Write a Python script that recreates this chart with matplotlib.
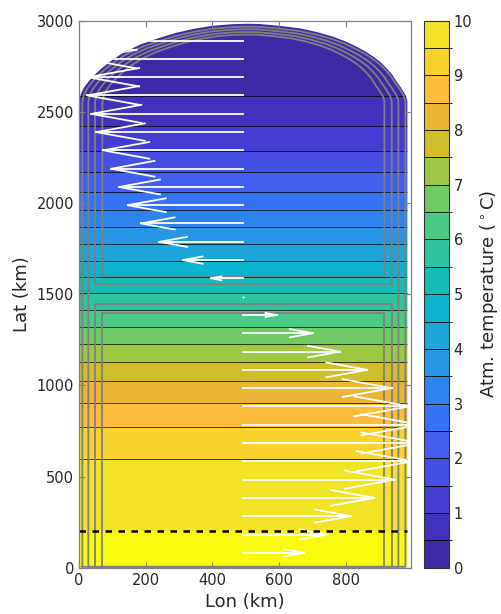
import numpy as np
import matplotlib
matplotlib.use("Agg")
import matplotlib.pyplot as plt
from matplotlib.colors import ListedColormap, BoundaryNorm
from matplotlib.cm import ScalarMappable
from matplotlib.patches import Polygon

plt.rcParams['font.family'] = ['DejaVu Sans']

# --- temperature profile: latitude (km) where each contour level is crossed ---
lat_pts = [0, 200, 595, 770, 902, 1022, 1127, 1227, 1322, 1413, 1505, 1593,
           1684, 1775, 1867, 1962, 2059, 2169, 2284, 2421, 2589, 3000]
temp_pts = [10.5, 10.0, 9.5, 9.0, 8.5, 8.0, 7.5, 7.0, 6.5, 6.0, 5.5, 5.0,
            4.5, 4.0, 3.5, 3.0, 2.5, 2.0, 1.5, 1.0, 0.5, 0.05]
temp_levels = [0, 0.5, 1, 1.5, 2, 2.5, 3, 3.5, 4, 4.5, 5, 5.5, 6, 6.5, 7,
               7.5, 8, 8.5, 9, 9.5, 10]
band_colors = ['#3d2aa6', '#4131bd', '#453dd2', '#464ee4', '#435ff0', '#3672f5',
               '#2e84ef', '#2796e4', '#1ea6da', '#0bb3cf', '#14bdb6', '#2ec4a0',
               '#4bc986', '#6fcb63', '#9ec843', '#d0bf2a', '#edb535', '#fcbd3c',
               '#f9d22d', '#f3e326']
over_color = '#f9fb0e'

# --- domain outline: top cap (left to right), flat sides below ---
dom_right = 985
cap_x = [0, 2, 6, 14, 28, 45, 68, 100, 138, 185, 238, 290, 343, 400, 460,
         500, 540, 600, 663, 715, 763, 800, 833, 860, 883, 905, 923, 940,
         953, 965, 973, 980, 985]
cap_y = [2550, 2575, 2600, 2630, 2665, 2700, 2739, 2785, 2830, 2870, 2904,
         2933, 2955, 2972, 2981, 2983, 2982, 2972, 2958, 2937, 2912, 2886,
         2857, 2830, 2803, 2772, 2739, 2703, 2665, 2635, 2611, 2590, 2560]

# --- streamlines (outer -> inner) ---
sl_left = [10, 28, 48, 70]
sl_right = [979, 958, 938, 916]
sl_top = [2967, 2953, 2938, 2924]
sl_bottom = 5
upper_cell_bottom = [1554, 1600]   # for the two inner lines
lower_cell_top = [1445, 1395]

# --- wind arrows: rows of latitude, zonal length (km) from x0 ---
arrow_x0 = 492
arrow_lat = [82, 182, 283, 383, 483, 584, 684, 784, 885, 985, 1085, 1185,
             1286, 1386, 1486, 1587, 1687, 1787, 1888, 1988, 2088, 2188,
             2289, 2389, 2489, 2590, 2690, 2790, 2890]
arrow_u = [184, 253, 324, 394, 456, 509, 530, 530, 500, 446, 373, 291,
           209, 101, 0, -97, -181, -251, -306, -346, -372, -396,
           -420, -440, -455, -467, -465, -475, -480]

front_lat = 200

# --- figure ---
fig = plt.figure(figsize=(5.02, 6.14), dpi=100)
ax = fig.add_axes([0.1574, 0.0754, 0.6608, 0.8909])
cax = fig.add_axes([0.8452, 0.0754, 0.0486, 0.8909])

poly_x = [0, dom_right] + cap_x[::-1]
poly_y = [0, 0] + cap_y[::-1]
domain = Polygon(np.column_stack([poly_x, poly_y]), closed=True,
                 facecolor='none', edgecolor='none')
ax.add_patch(domain)

X = [0, 1000]
T2d = np.column_stack([temp_pts, temp_pts])
cs = ax.contourf(X, lat_pts, T2d, levels=temp_levels + [11],
                 colors=band_colors + [over_color])
cs.set_clip_path(domain)
cl = ax.contour(X, lat_pts, T2d, levels=temp_levels[1:-1], colors='k',
                linewidths=0.6, alpha=0.85)
cl.set_clip_path(domain)

# streamlines
scol = '#808080'
slw = 1.3
cap_x_arr = np.array(cap_x)
cap_y_arr = np.array(cap_y)
y_join = cap_y[0]
for i in range(4):
    xl, xr, yt = sl_left[i], sl_right[i], sl_top[i]
    cx = xl + cap_x_arr / dom_right * (xr - xl)
    cy = y_join + (cap_y_arr - y_join) * (yt - y_join) / (max(cap_y) - y_join)
    if i < 2:
        yb = sl_bottom
    else:
        yb = upper_cell_bottom[i - 2]
    px = [xl] + list(cx) + [xr, xr, xl, xl]
    py = [yb] + list(cy) + [cy[-1], yb, yb, yb]
    ax.plot(px, py, color=scol, lw=slw, solid_joinstyle='round')
    if i >= 2:
        ytop = lower_cell_top[i - 2]
        ax.plot([xl, xl, xr, xr, xl], [sl_bottom, ytop, ytop, sl_bottom, sl_bottom],
                color=scol, lw=slw, solid_joinstyle='round')

# arrows (MATLAB quiver style heads)
alpha, beta = 0.33, 0.33
for y, u in zip(arrow_lat, arrow_u):
    if u == 0:
        ln, = ax.plot(arrow_x0, y, 'o', color='w', ms=1.5, mew=0)
        ln.set_clip_path(domain)
        continue
    tip = arrow_x0 + u
    ln, = ax.plot([arrow_x0, tip], [y, y], color='w', lw=1.3)
    ln.set_clip_path(domain)
    hx = [tip - alpha * u, tip, tip - alpha * u]
    hy = [y + alpha * beta * u, y, y - alpha * beta * u]
    ln, = ax.plot(hx, hy, color='w', lw=1.3)
    ln.set_clip_path(domain)

ax.plot([0, dom_right], [front_lat, front_lat], color='k', lw=1.8,
        linestyle=(0, (2.6, 2.6)))

ax.set_xlim(0, 995)
ax.set_ylim(0, 3000)
ax.set_xticks([0, 200, 400, 600, 800])
ax.set_yticks([0, 500, 1000, 1500, 2000, 2500, 3000])
ax.tick_params(direction='in', length=4, width=0.8, color='#808080',
               labelcolor='#262626', labelsize=10.5, top=True, right=True)
for s in ax.spines.values():
    s.set_color('#808080')
    s.set_linewidth(0.9)
ax.set_xlabel('Lon (km)', fontsize=13, color='#262626', labelpad=4)
ax.set_ylabel('Lat (km)', fontsize=13, color='#262626', labelpad=4)

# colorbar
cmap = ListedColormap(band_colors)
norm = BoundaryNorm(temp_levels, cmap.N)
cb = fig.colorbar(ScalarMappable(norm=norm, cmap=cmap), cax=cax,
                  ticks=[0, 1, 2, 3, 4, 5, 6, 7, 8, 9, 10])
cb.add_lines(temp_levels[1:-1], ['k'] * 19, [0.6] * 19)
cb.outline.set_linewidth(0.8)
cb.outline.set_edgecolor('#333333')
cax.tick_params(direction='in', length=3, width=0.6, color='#333333',
                labelcolor='#262626', labelsize=10.5)
cb.set_label('Atm. temperature ($^\\circ$C)', fontsize=13, color='#262626',
             labelpad=4)

fig.savefig('out.png', dpi=100)
